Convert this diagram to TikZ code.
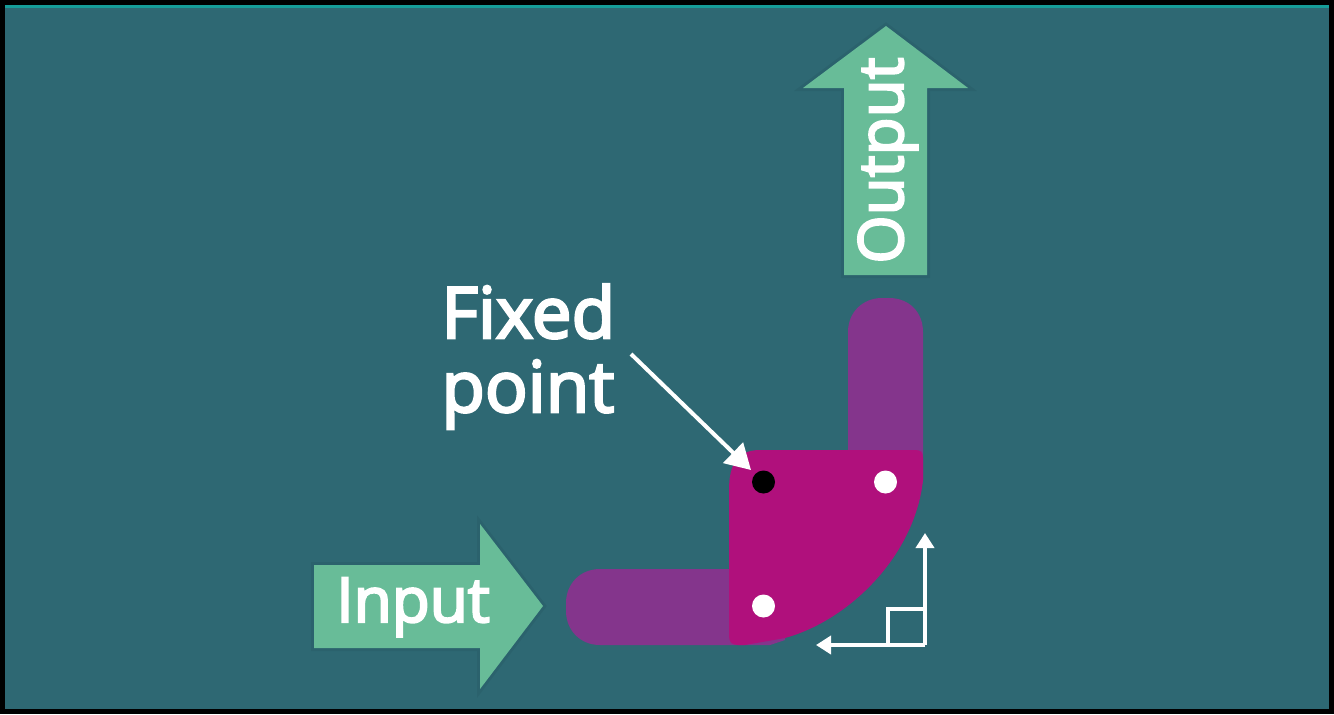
\documentclass[tikz,border=0pt]{standalone}
\usepackage{fontspec}
\setmainfont{Open Sans}
\newfontfamily\labelfont{Open Sans}[FakeBold=3.5]
\usetikzlibrary{arrows.meta}
\definecolor{bgteal}{HTML}{2E6873}
\definecolor{edgeteal}{HTML}{169C98}
\definecolor{arrowgreen}{HTML}{68BC98}
\definecolor{linkpurple}{HTML}{84358C}
\definecolor{platemagenta}{HTML}{B0107C}
\tikzset{
  biglabel/.style={text=white,inner sep=0pt,font=\labelfont\fontsize{31}{31}\selectfont},
  hugelabel/.style={text=white,inner sep=0pt,font=\labelfont\fontsize{35.5}{36}\selectfont},
  flowarrow/.style={fill=arrowgreen,preaction={draw=black,draw opacity=0.05,line width=3pt}},
  linkbar/.style={fill=linkpurple},
  pivot/.style={circle,minimum size=11.5pt,inner sep=0pt,fill=white},
  callout/.style={draw=white,line width=2pt,-{Triangle[length=12.5pt,width=14pt]}},
  motion/.style={draw=white,line width=2pt,-{Triangle[length=7.5pt,width=9pt]}}
}
\begin{document}
\begin{tikzpicture}[x=0.5pt,y=-0.5pt]
\useasboundingbox (0,0) rectangle (1334,714);
\fill[black] (0,0) rectangle (1334,714);
\fill[bgteal] (5,5) rectangle (1329,709);
\fill[edgeteal] (5,5) rectangle (1329,7.5);
% links
\fill[linkbar] (785,569) -- (600,569) .. controls (580,569) and (566,584) .. (566,603) -- (566,611) .. controls (566,630) and (580,645) .. (600,645) -- (770,645) -- (785,640) -- cycle;
\fill[linkbar] (848,500) -- (848,332) .. controls (848,312) and (863,298) .. (882,298) -- (889,298) .. controls (909,298) and (923,312) .. (923,332) -- (923,480) -- (918,505) -- cycle;
% plate
\fill[platemagenta] (729,636) -- (729,490)
  .. controls (729,465) and (737,450) .. (760,450)
  -- (915,450) .. controls (921,450) and (923,452) .. (923,458)
  -- (923,480) .. controls (915,555) and (850,620) .. (785,638)
  -- (745,645)
  -- (738,645) .. controls (732,645) and (729,642) .. (729,636) -- cycle;
% flow arrows
\path[flowarrow] (314,565) -- (480,565) -- (480,524) -- (543,606) -- (480,689) -- (480,648) -- (314,648) -- cycle;
\path[flowarrow] (844,275) -- (844,88) -- (803,88) -- (886,26) -- (968,88) -- (927,88) -- (927,275) -- cycle;
\node[biglabel,anchor=base west] (inputlabel) at (336,622) {Input};
\node[biglabel,rotate=90,anchor=base west] (outputlabel) at (903,264) {Output};
\node[hugelabel,anchor=base west] (fixedlabel) at (441,338) {Fixed};
\node[hugelabel,anchor=base west] (pointlabel) at (441,412) {point};
% pivots
\node[pivot,fill=black] (fixedpivot) at (763.5,482) {};
\node[pivot] (toppivot) at (885.5,482) {};
\node[pivot] (lowpivot) at (763.5,606) {};
% callout
\coordinate (calloutstart) at (631,354);
\coordinate (callouttip) at (751,470);
\draw[callout] (calloutstart) -- (callouttip);
% motion arrows
\coordinate (corner) at (925,645);
\coordinate (uptip) at (925,533);
\coordinate (lefttip) at (816,645);
\draw[motion] (corner) -- (uptip);
\draw[motion] (corner) -- (lefttip);
\draw[draw=white,line width=2pt] (888,645) -- (888,608.5) -- (925,608.5);
\end{tikzpicture}
\end{document}
